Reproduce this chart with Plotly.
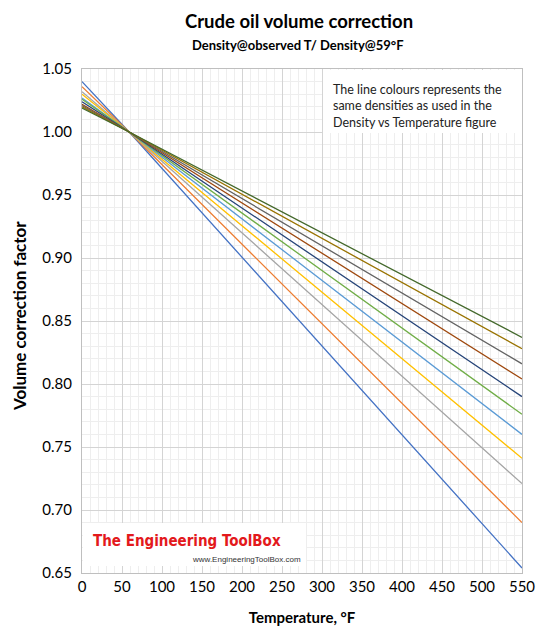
import plotly.graph_objects as go

temps = [0, 59, 550]
series_colors = ["#4472C4", "#ED7D31", "#A5A5A5", "#FFC000", "#5B9BD5", "#70AD47",
                 "#264478", "#9E480E", "#636363", "#997300", "#43682B"]
v_at_0 = [1.040, 1.036, 1.032, 1.030, 1.027, 1.026, 1.024, 1.022, 1.021, 1.020, 1.019]
v_at_59 = [1.0] * 11
v_at_550 = [0.654, 0.690, 0.721, 0.741, 0.760, 0.776, 0.790, 0.804, 0.816, 0.828, 0.837]

FONT = "Lato, Open Sans, sans-serif"
OFF = 8  # page body margin
W, H = 550, 639
# plot area in page pixels: x 82..522, y 69..573
L, R, T, B = 82 - OFF, W - (522 - OFF), 69 - OFF, H - (573 - OFF)
PW, PH = W - L - R, H - T - B


def px(x):
    return (x - OFF - L) / PW


def py(y):
    return (H - B - (y - OFF)) / PH


fig = go.Figure()
for i in range(len(series_colors)):
    fig.add_trace(go.Scatter(
        x=temps, y=[v_at_0[i], v_at_59[i], v_at_550[i]], mode="lines",
        line=dict(color=series_colors[i], width=1.3), showlegend=False,
        hoverinfo="skip"))

fig.update_layout(
    width=W, height=H,
    margin=dict(l=L, r=R, t=T, b=B),
    paper_bgcolor="white", plot_bgcolor="white",
    font=dict(family=FONT, size=15, color="#000000"),
)

fig.update_xaxes(
    range=[0, 550], dtick=50, tick0=0, showgrid=True, gridcolor="#d4d4d4", gridwidth=1,
    minor=dict(dtick=10, showgrid=True, gridcolor="#eeeeee", gridwidth=1),
    showline=True, linecolor="#bfbfbf", mirror=True, zeroline=False, ticks="",
    tickfont=dict(size=15, family=FONT), automargin=False,
    title=dict(text="<b>Temperature, °F</b>", font=dict(size=15, family=FONT), standoff=18),
)
fig.update_yaxes(
    range=[0.65, 1.05], dtick=0.05, tick0=0.65, tickformat=".2f",
    showgrid=True, gridcolor="#d4d4d4", gridwidth=1,
    minor=dict(dtick=0.01, showgrid=True, gridcolor="#eeeeee", gridwidth=1),
    showline=True, linecolor="#bfbfbf", mirror=True, zeroline=False, ticks="",
    tickfont=dict(size=15, family=FONT), ticklabelstandoff=6, automargin=False,
)

# title
fig.add_annotation(text="<b>Crude oil volume correction</b>", xref="paper", yref="paper",
                   x=px(299), y=py(21), xanchor="center", yanchor="middle",
                   showarrow=False, font=dict(size=18.5, family=FONT))
# subtitle
fig.add_annotation(text="<b>Density@observed T/ Density@59°F</b>", xref="paper", yref="paper",
                   x=px(298), y=py(45), xanchor="center", yanchor="middle",
                   showarrow=False, font=dict(size=13, family=FONT))
# y-axis title
fig.add_annotation(text="<b>Volume correction factor</b>", xref="paper", yref="paper",
                   x=px(19), y=py(316), xanchor="center", yanchor="middle", textangle=-90,
                   showarrow=False, font=dict(size=17, family=FONT))

# note box
fig.add_shape(type="rect", xref="paper", yref="paper",
              x0=px(323), x1=1.0, y0=py(133), y1=py(70),
              fillcolor="white", line=dict(width=0), layer="above")
fig.add_annotation(
    text="The line colours represents the<br>same densities as used in the<br>Density vs Temperature figure",
    xref="paper", yref="paper", x=px(331), y=py(106),
    xanchor="left", yanchor="middle", align="left", showarrow=False,
    font=dict(size=12.5, family=FONT, color="#222222"))

# watermark
fig.add_shape(type="rect", xref="paper", yref="paper",
              x0=0.002, x1=px(306), y0=py(566), y1=py(523),
              fillcolor="white", line=dict(width=0), layer="above")
fig.add_annotation(text="<b>The Engineering ToolBox</b>", xref="paper", yref="paper",
                   x=px(91), y=py(541), xanchor="left", yanchor="middle",
                   showarrow=False,
                   font=dict(size=15, family="DejaVu Sans Condensed", color="#e3191c"))
fig.add_annotation(text="www.EngineeringToolBox.com", xref="paper", yref="paper",
                   x=px(303), y=py(559), xanchor="right", yanchor="middle",
                   showarrow=False, font=dict(size=8, family="Liberation Sans, Arial", color="#333333"))

fig.write_html("out.html")
